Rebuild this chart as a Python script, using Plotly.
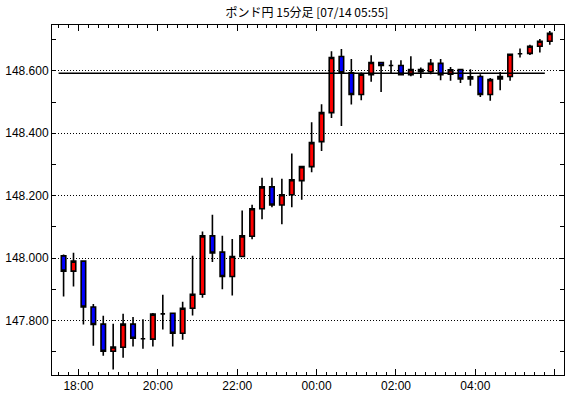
import plotly.graph_objects as go
import pandas as pd

title_text = "ポンド円 15分足 [07/14 05:55]"
start_time = "2017-07-13 17:30"
bar_minutes = 15

opens = [148.007, 147.958, 147.990, 147.843, 147.788, 147.701, 147.714, 147.788, 147.741, 147.740,
         147.821, 147.823, 147.759, 147.839, 147.884, 148.071, 148.019, 147.941, 148.005, 148.070,
         148.158, 148.228, 148.170, 148.203, 148.248, 148.293, 148.373, 148.466, 148.646, 148.594,
         148.524, 148.588, 148.627, 148.617, 148.617, 148.588, 148.604, 148.597, 148.624, 148.589,
         148.604, 148.574, 148.582, 148.524, 148.574, 148.582, 148.655, 148.656, 148.679, 148.695]
closes = [147.958, 147.990, 147.843, 147.787, 147.701, 147.715, 147.788, 147.743, 147.741, 147.820,
          147.821, 147.759, 147.839, 147.884, 148.071, 148.016, 147.941, 148.005, 148.071, 148.158,
          148.228, 148.170, 148.203, 148.251, 148.293, 148.370, 148.466, 148.643, 148.594, 148.524,
          148.589, 148.627, 148.617, 148.617, 148.588, 148.604, 148.597, 148.624, 148.588, 148.603,
          148.574, 148.581, 148.524, 148.572, 148.582, 148.653, 148.655, 148.679, 148.695, 148.720]
highs = [148.011, 148.017, 147.992, 147.853, 147.815, 147.789, 147.821, 147.811, 147.804, 147.824,
         147.882, 147.824, 147.860, 148.007, 148.085, 148.139, 148.071, 148.061, 148.152, 148.171,
         148.257, 148.257, 148.254, 148.335, 148.296, 148.435, 148.493, 148.663, 148.670, 148.638,
         148.595, 148.650, 148.628, 148.634, 148.634, 148.647, 148.611, 148.638, 148.638, 148.612,
         148.605, 148.605, 148.589, 148.577, 148.596, 148.654, 148.672, 148.684, 148.702, 148.728]
lows = [147.877, 147.909, 147.787, 147.719, 147.687, 147.643, 147.680, 147.716, 147.709, 147.716,
        147.771, 147.716, 147.738, 147.816, 147.873, 147.987, 147.900, 147.880, 148.004, 148.060,
        148.124, 148.163, 148.108, 148.163, 148.187, 148.275, 148.343, 148.449, 148.423, 148.492,
        148.506, 148.565, 148.532, 148.592, 148.587, 148.583, 148.577, 148.589, 148.570, 148.568,
        148.561, 148.552, 148.516, 148.504, 148.538, 148.568, 148.643, 148.651, 148.659, 148.684]
ref_level = 148.592

starts = pd.date_range(start_time, periods=len(opens), freq=f"{bar_minutes}min")
centers = starts + pd.Timedelta(minutes=bar_minutes / 2)

fig = go.Figure()
fig.add_trace(go.Scatter(
    x=[starts[0], starts[-1]], y=[ref_level, ref_level], mode="lines",
    line=dict(color="black", width=1.5), hoverinfo="skip", showlegend=False))
fig.add_trace(go.Candlestick(
    x=centers, open=opens, high=highs, low=lows, close=closes,
    increasing=dict(fillcolor="#ff0000", line=dict(color="black", width=1.6)),
    decreasing=dict(fillcolor="#0000ff", line=dict(color="black", width=1.6)),
    whiskerwidth=0, showlegend=False))

fig.update_layout(
    width=570, height=398,
    margin=dict(l=49, r=5, t=25, b=23),
    paper_bgcolor="white", plot_bgcolor="white",
    boxgap=0.35,
    title=dict(text=title_text, x=(49 + 565) / 2 / 570, xanchor="center",
               y=1 - 13 / 398, yanchor="middle",
               font=dict(family="Noto Sans CJK JP", size=12, color="black")),
    font=dict(family="Liberation Sans", size=12, color="black"),
)
fig.update_xaxes(
    type="date", rangeslider=dict(visible=False),
    range=["2017-07-13 17:20", "2017-07-14 06:14"],
    tick0="2017-07-13 18:00", dtick=2 * 3600 * 1000, tickformat="%H:%M",
    ticks="inside", ticklen=6, tickcolor="black",
    minor=dict(dtick=bar_minutes * 60 * 1000, ticks="inside", ticklen=3, tickcolor="black"),
    showgrid=False, showline=True, linecolor="black", linewidth=1, mirror="allticks",
    tickfont=dict(family="Liberation Sans", size=12),
)
fig.update_yaxes(
    range=[147.625, 148.747],
    tick0=147.8, dtick=0.2, tickformat=".3f",
    ticks="inside", ticklen=4, tickcolor="black",
    minor=dict(dtick=0.1, ticks="inside", ticklen=4, tickcolor="black"),
    showgrid=True, gridcolor="black", griddash="1px,2px", gridwidth=1,
    showline=True, linecolor="black", linewidth=1, mirror="allticks",
    zeroline=False,
    tickfont=dict(family="Liberation Sans", size=12),
)

fig.write_html("out.html")
